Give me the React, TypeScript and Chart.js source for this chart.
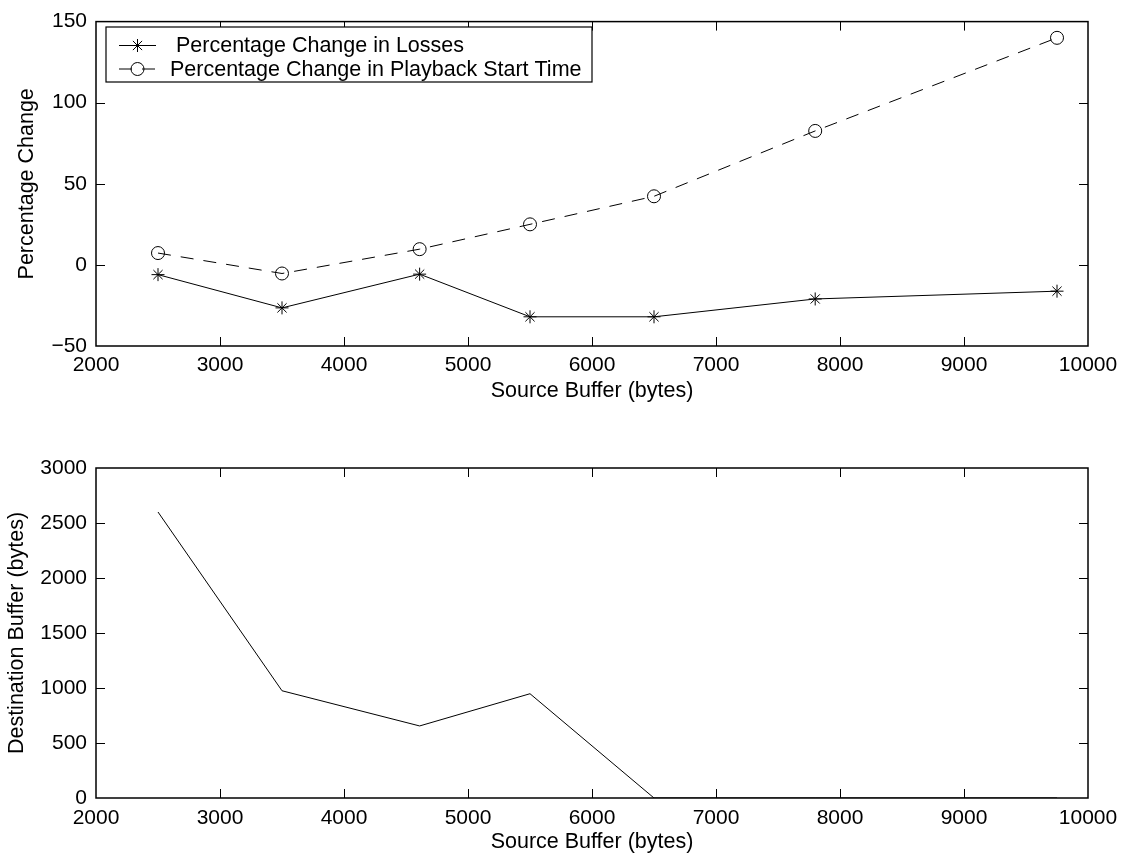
import React, { useEffect, useRef } from 'react';
import { Chart, registerables } from 'chart.js';

Chart.register(...registerables);

// ---- data ----
const sourceBuffer = [2500, 3500, 4610, 5500, 6500, 7800, 9750];
const lossesChange = [-6, -26.5, -5.7, -32, -32, -21, -16.2];
const playbackChange = [7.3, -5.3, 9.7, 25, 42.3, 82.6, 140];
const destinationBuffer = [2600, 975, 655, 948, 0, 0, 0];

const xTickValues = [2000, 3000, 4000, 5000, 6000, 7000, 8000, 9000, 10000];
const pctTickValues = [-50, 0, 50, 100, 150];
const destTickValues = [0, 500, 1000, 1500, 2000, 2500, 3000];

const seriesLabels = [' Percentage Change in Losses', 'Percentage Change in Playback Start Time'];
const xTitle = 'Source Buffer (bytes)';
const topYTitle = 'Percentage Change';
const bottomYTitle = 'Destination Buffer (bytes)';

const FONT = '"Liberation Sans", Arial, Helvetica, sans-serif';
const TICK_SIZE = 21;
const TITLE_SIZE = 21.5;

const fmt = (v: any) => String(v).replace('-', '\u2212');

const framePlugin = {
  id: 'matlabFrame',
  afterDraw(chart: any) {
    const { ctx, chartArea: a, scales } = chart;
    const L = 9;
    ctx.save();
    ctx.strokeStyle = '#000';
    ctx.lineWidth = 1;
    ctx.beginPath();
    for (const t of scales.x.ticks) {
      if (t.value <= scales.x.min || t.value >= scales.x.max) continue;
      const px = Math.round(scales.x.getPixelForValue(t.value)) + 0.5;
      ctx.moveTo(px, a.bottom);
      ctx.lineTo(px, a.bottom - L);
      ctx.moveTo(px, a.top);
      ctx.lineTo(px, a.top + L);
    }
    for (const t of scales.y.ticks) {
      if (t.value <= scales.y.min || t.value >= scales.y.max) continue;
      const py = Math.round(scales.y.getPixelForValue(t.value)) + 0.5;
      ctx.moveTo(a.left, py);
      ctx.lineTo(a.left + L, py);
      ctx.moveTo(a.right, py);
      ctx.lineTo(a.right - L, py);
    }
    ctx.stroke();
    ctx.lineWidth = 1.5;
    ctx.strokeRect(a.left, a.top, a.right - a.left, a.bottom - a.top);
    ctx.restore();
  },
};

function drawMarker(ctx: CanvasRenderingContext2D, style: string, x: number, y: number, r: number) {
  ctx.beginPath();
  if (style === 'circle') {
    ctx.arc(x, y, r, 0, Math.PI * 2);
  } else if (style === 'star') {
    const d = Math.cos(Math.PI / 4) * r;
    ctx.moveTo(x, y - r);
    ctx.lineTo(x, y + r);
    ctx.moveTo(x - r, y);
    ctx.lineTo(x + r, y);
    ctx.moveTo(x - d, y - d);
    ctx.lineTo(x + d, y + d);
    ctx.moveTo(x - d, y + d);
    ctx.lineTo(x + d, y - d);
  }
  ctx.stroke();
}

const legendPlugin = {
  id: 'matlabLegend',
  afterDraw(chart: any) {
    const { ctx } = chart;
    const box = { x: 106, y: 27, w: 486, h: 55 };
    const rows = [45.5, 69];
    ctx.save();
    ctx.fillStyle = '#fff';
    ctx.fillRect(box.x, box.y, box.w, box.h);
    ctx.strokeStyle = '#000';
    ctx.lineWidth = 1.2;
    ctx.strokeRect(box.x, box.y, box.w, box.h);
    chart.data.datasets.forEach((ds: any, i: number) => {
      const y = rows[i];
      ctx.lineWidth = 1;
      ctx.setLineDash(ds.borderDash || []);
      ctx.beginPath();
      ctx.moveTo(119, y);
      ctx.lineTo(156, y);
      ctx.stroke();
      ctx.setLineDash([]);
      drawMarker(ctx, ds.pointStyle, 137.5, y, ds.pointRadius);
      ctx.fillStyle = '#000';
      ctx.font = `${TITLE_SIZE}px ${FONT}`;
      ctx.textBaseline = 'middle';
      ctx.textAlign = 'left';
      ctx.fillText(ds.label, 170, y + 1);
    });
    ctx.restore();
  },
};

function makeScales(yTicks: number[], yTitle: string, xHeight: number, xTitlePadBottom: number, xTickPad: number, yTitlePad: number) {
  return {
    x: {
      type: 'linear' as const,
      min: xTickValues[0],
      max: xTickValues[xTickValues.length - 1],
      afterBuildTicks: (s: any) => {
        s.ticks = xTickValues.map((v) => ({ value: v }));
      },
      afterFit: (s: any) => {
        s.height = xHeight;
      },
      grid: { display: false, drawTicks: false },
      border: { display: false },
      ticks: {
        padding: xTickPad,
        color: '#000',
        autoSkip: false,
        maxRotation: 0,
        font: { family: FONT, size: TICK_SIZE, lineHeight: 1.2 },
        callback: (v: any) => fmt(v),
      },
      title: {
        display: true,
        text: xTitle,
        color: '#000',
        font: { family: FONT, size: TITLE_SIZE, lineHeight: 1.2 },
        padding: { top: 0, bottom: xTitlePadBottom },
      },
    },
    y: {
      type: 'linear' as const,
      min: yTicks[0],
      max: yTicks[yTicks.length - 1],
      afterBuildTicks: (s: any) => {
        s.ticks = yTicks.map((v) => ({ value: v }));
      },
      afterFit: (s: any) => {
        s.width = 96;
      },
      grid: { display: false, drawTicks: false },
      border: { display: false },
      ticks: {
        padding: 9,
        color: '#000',
        autoSkip: false,
        font: { family: FONT, size: TICK_SIZE, lineHeight: 1.2 },
        callback: (v: any) => fmt(v),
      },
      title: {
        display: true,
        text: yTitle,
        color: '#000',
        font: { family: FONT, size: TITLE_SIZE, lineHeight: 1.2 },
        padding: { top: yTitlePad, bottom: 0 },
      },
    },
  };
}

export default function App() {
  const topRef = useRef<HTMLCanvasElement>(null);
  const bottomRef = useRef<HTMLCanvasElement>(null);

  useEffect(() => {
    const top = new Chart(topRef.current as HTMLCanvasElement, {
      type: 'line',
      data: {
        datasets: [
          {
            label: seriesLabels[0],
            data: sourceBuffer.map((x, i) => ({ x, y: lossesChange[i] })),
            borderColor: '#000',
            borderWidth: 1,
            pointStyle: 'star',
            pointRadius: 6.5,
            pointBorderColor: '#000',
            pointBorderWidth: 1,
            pointBackgroundColor: 'rgba(0,0,0,0)',
            tension: 0,
            fill: false,
          },
          {
            label: seriesLabels[1],
            data: sourceBuffer.map((x, i) => ({ x, y: playbackChange[i] })),
            borderColor: '#000',
            borderWidth: 1,
            borderDash: [13, 10],
            pointStyle: 'circle',
            pointRadius: 6.5,
            pointBorderColor: '#000',
            pointBorderWidth: 1,
            pointBackgroundColor: 'rgba(0,0,0,0)',
            tension: 0,
            fill: false,
          },
        ],
      },
      options: {
        animation: false,
        responsive: false,
        maintainAspectRatio: false,
        devicePixelRatio: 1,
        layout: { padding: { top: 15, right: 39, left: 0, bottom: 0 } },
        plugins: { legend: { display: false }, tooltip: { enabled: false } },
        scales: makeScales(pctTickValues, topYTitle, 74, 16, 7, 14),
      } as any,
      plugins: [framePlugin, legendPlugin],
    });

    const bottom = new Chart(bottomRef.current as HTMLCanvasElement, {
      type: 'line',
      data: {
        datasets: [
          {
            label: bottomYTitle,
            data: sourceBuffer.map((x, i) => ({ x, y: destinationBuffer[i] })),
            borderColor: '#000',
            borderWidth: 1,
            pointRadius: 0,
            tension: 0,
            fill: false,
          },
        ],
      },
      options: {
        animation: false,
        responsive: false,
        maintainAspectRatio: false,
        devicePixelRatio: 1,
        layout: { padding: { top: 48, right: 39, left: 0, bottom: 0 } },
        plugins: { legend: { display: false }, tooltip: { enabled: false } },
        scales: makeScales(destTickValues, bottomYTitle, 63, 6, 8, 4),
      } as any,
      plugins: [framePlugin],
    });

    return () => {
      top.destroy();
      bottom.destroy();
    };
  }, []);

  return (
    <div style={{ position: 'absolute', left: 0, top: 0, width: 1127, height: 861, background: '#fff' }}>
      <canvas
        ref={topRef}
        width={1127}
        height={420}
        style={{ position: 'absolute', left: 0, top: 0, width: 1127, height: 420 }}
      />
      <canvas
        ref={bottomRef}
        width={1127}
        height={441}
        style={{ position: 'absolute', left: 0, top: 420, width: 1127, height: 441 }}
      />
    </div>
  );
}
